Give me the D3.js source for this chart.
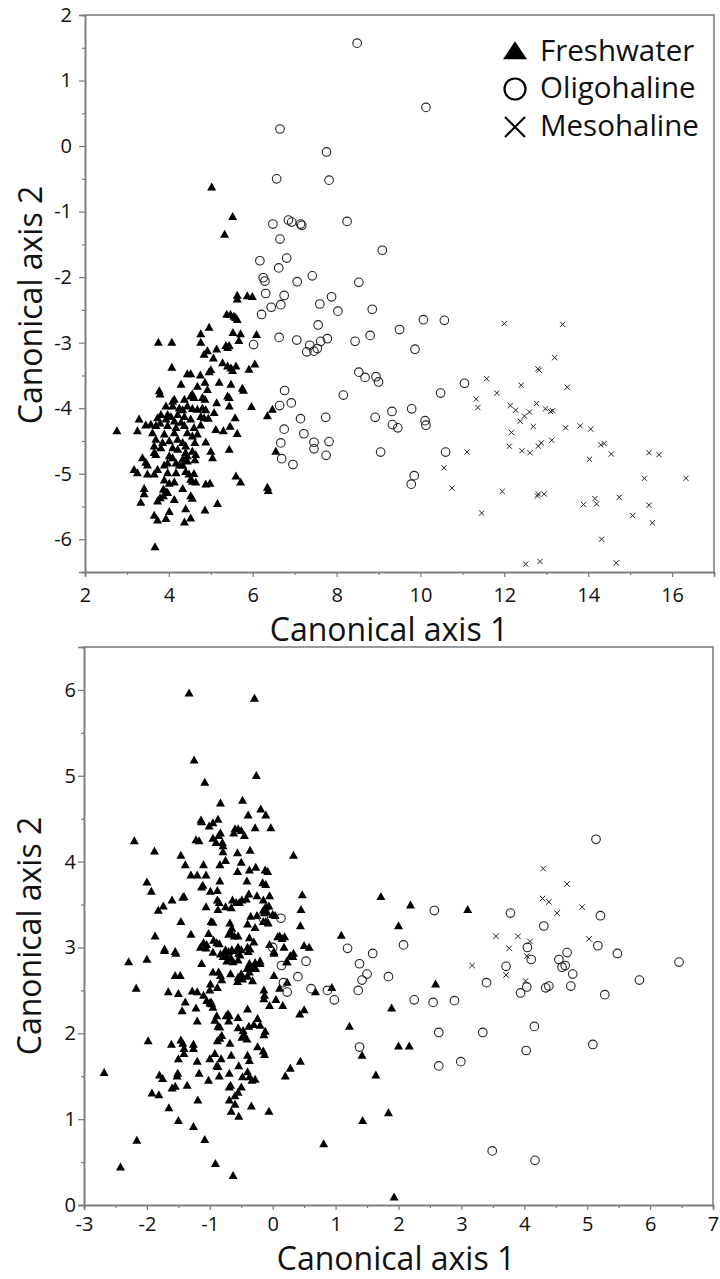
<!DOCTYPE html>
<html>
<head>
<meta charset="utf-8">
<script src="https://cdnjs.cloudflare.com/ajax/libs/d3/7.8.5/d3.min.js"></script>
<style>
  html, body { margin: 0; padding: 0; background: #fff; }
  svg { display: block; font-family: "Open Sans", "Noto Sans", sans-serif; }
</style>
</head>
<body>
<div id="chart"></div>
<script>
"use strict";

// ---- data ----
var seriesNames = ["Freshwater", "Oligohaline", "Mesohaline"];

// upper panel: canonical axis 1 vs 2
var freshTop = [
  [5.02,-0.63],[5.52,-1.08],[5.33,-1.35],[5.63,-2.28],[5.87,-2.29],[5.99,-2.3],
  [5.63,-2.34],[5.38,-2.57],[5.47,-2.57],[5.55,-2.6],[5.59,-2.62],[5.63,-2.65],
  [4.96,-2.77],[4.76,-2.87],[5.53,-2.85],[5.71,-2.87],[6.09,-2.88],[5.67,-2.97],
  [4.76,-3.0],[3.75,-3.0],[4.07,-3.0],[5.36,-3.05],[5.4,-3.08],[5.44,-3.05],
  [5.14,-3.1],[4.92,-3.13],[4.84,-3.18],[5.06,-3.24],[5.28,-3.31],[4.07,-3.38],
  [5.0,-3.42],[4.96,-3.45],[5.4,-3.36],[5.48,-3.39],[5.52,-3.43],[5.6,-3.36],[5.91,-3.41],[6.05,-3.33],
  [4.44,-3.48],[4.52,-3.48],[4.75,-3.5],[4.86,-3.61],[5.2,-3.61],[5.48,-3.64],[4.29,-3.64],[4.68,-3.67],
  [5.75,-3.7],[5.78,-3.73],[3.77,-3.74],[3.79,-3.79],[4.92,-3.72],[4.56,-3.79],[4.52,-3.82],[4.6,-3.84],
  [4.8,-3.84],[5.4,-3.82],[5.44,-3.84],[4.09,-3.9],[4.13,-3.87],[4.37,-3.87],[5.14,-3.92],[4.86,-3.87],
  [3.93,-3.97],[4.09,-3.97],[4.25,-4.0],[4.33,-4.03],[4.44,-3.97],[4.56,-4.01],[4.68,-4.02],[4.8,-4.0],[4.88,-4.03],
  [5.44,-3.97],[5.97,-3.98],[5.08,-4.07],[3.97,-4.1],[4.05,-4.13],[3.81,-4.1],[4.21,-4.1],[4.37,-4.13],
  [4.76,-4.13],[4.84,-4.15],[3.29,-4.17],[3.73,-4.15],[3.93,-4.17],[4.13,-4.2],[4.29,-4.22],[4.52,-4.17],
  [4.94,-4.16],[5.58,-4.15],[6.35,-4.12],[6.47,-4.02],[3.57,-4.25],[3.69,-4.27],[3.79,-4.23],[3.97,-4.27],
  [4.17,-4.3],[4.37,-4.27],[4.6,-4.3],[4.76,-4.26],[3.45,-4.26],[3.25,-4.35],[2.76,-4.35],[3.61,-4.38],
  [3.89,-4.4],[4.13,-4.38],[4.44,-4.38],[4.68,-4.4],[4.56,-4.43],[5.12,-4.33],[5.3,-4.35],[5.46,-4.28],[5.63,-4.39],
  [3.69,-4.48],[3.85,-4.53],[4.01,-4.5],[4.21,-4.48],[4.33,-4.53],[4.62,-4.53],[4.88,-4.52],[3.65,-4.58],[3.81,-4.61],
  [4.09,-4.61],[4.21,-4.63],[4.4,-4.58],[4.56,-4.66],[5.44,-4.63],[5.0,-4.66],[3.65,-4.68],[3.69,-4.71],
  [4.4,-4.68],[4.44,-4.73],[4.64,-4.71],[4.01,-4.73],[4.09,-4.76],[5.04,-4.76],[3.37,-4.76],[4.33,-4.78],[4.44,-4.81],
  [3.45,-4.83],[3.49,-4.87],[3.89,-4.87],[3.97,-4.84],[4.17,-4.84],[4.25,-4.87],[4.33,-4.87],[4.62,-4.79],
  [3.17,-4.94],[3.25,-4.99],[3.73,-4.94],[3.97,-4.99],[4.17,-4.99],[3.49,-5.01],[3.65,-5.01],[4.4,-4.97],[4.48,-5.01],[4.6,-5.0],
  [4.52,-5.09],[4.56,-5.12],[4.64,-5.13],[4.88,-5.16],[4.98,-5.15],[5.6,-5.04],[5.71,-5.13],[4.13,-5.13],[4.01,-5.15],[3.89,-5.1],
  [3.41,-5.23],[3.41,-5.31],[4.33,-5.23],[3.87,-5.24],[3.93,-5.28],[3.97,-5.29],[6.35,-5.21],[6.37,-5.26],
  [3.79,-5.37],[3.87,-5.34],[4.52,-5.34],[4.56,-5.38],[3.33,-5.44],[4.13,-5.4],[3.73,-5.42],[5.16,-5.46],
  [4.86,-5.56],[4.4,-5.54],[4.01,-5.58],[3.65,-5.64],[3.73,-5.71],[3.93,-5.69],[4.52,-5.68],[4.37,-5.74],[3.67,-6.12],[6.55,-4.66]
];
var oligoTop = [
  [8.49,1.57],[10.13,0.59],[6.65,0.26],[7.76,-0.09],[6.57,-0.5],[7.82,-0.52],[6.48,-1.19],[6.85,-1.13],[6.93,-1.16],
  [7.14,-1.19],[7.17,-1.21],[8.25,-1.15],[6.65,-1.42],[6.17,-1.75],[6.81,-1.71],[6.62,-1.86],[6.25,-2.01],[6.29,-2.06],
  [7.06,-2.07],[7.42,-1.98],[9.09,-1.59],[8.53,-2.08],[6.31,-2.25],[6.75,-2.28],[7.88,-2.3],
  [6.21,-2.57],[6.44,-2.46],[6.67,-2.42],[7.6,-2.41],[8.03,-2.52],[6.02,-3.03],[6.63,-2.92],[7.05,-2.96],
  [7.36,-3.04],[7.29,-3.14],[7.46,-3.13],[7.54,-3.09],[7.62,-2.98],[7.78,-2.94],[7.56,-2.73],[8.44,-2.98],
  [8.53,-3.45],[8.16,-3.8],[6.76,-3.73],[6.64,-3.96],[6.92,-3.92],[7.14,-4.16],[7.74,-4.14],[6.75,-4.32],
  [7.22,-4.39],[6.67,-4.53],[7.46,-4.52],[7.46,-4.62],[7.82,-4.51],[6.69,-4.77],[6.96,-4.86],[7.75,-4.72],
  [8.85,-2.49],[10.07,-2.65],[10.57,-2.66],[8.8,-2.89],[9.5,-2.8],[9.87,-3.1],[8.68,-3.53],[8.94,-3.52],[9.0,-3.6],
  [11.05,-3.62],[10.48,-3.77],[8.92,-4.14],[9.32,-4.05],[9.33,-4.25],[9.46,-4.3],[9.79,-4.01],[10.11,-4.19],[10.13,-4.26],
  [9.05,-4.67],[10.6,-4.67],[9.85,-5.03],[9.78,-5.16]
];
var mesoTop = [
  [12.0,-2.71],[13.39,-2.72],[13.2,-3.23],[12.8,-3.4],[12.83,-3.42],[11.58,-3.55],[12.4,-3.65],[13.5,-3.68],[11.82,-3.77],
  [11.33,-3.86],[11.37,-3.99],[12.14,-3.96],[12.27,-4.03],[12.77,-3.93],[12.98,-4.01],[13.1,-4.05],[13.15,-4.04],
  [12.48,-4.12],[12.6,-4.06],[12.38,-4.2],[12.69,-4.28],[13.46,-4.3],[13.81,-4.27],[14.06,-4.32],[12.17,-4.37],
  [14.3,-4.56],[14.38,-4.54],[13.13,-4.49],[12.88,-4.53],[12.81,-4.58],[12.12,-4.58],[12.42,-4.65],[12.61,-4.68],
  [11.11,-4.67],[14.55,-4.7],[15.45,-4.68],[15.69,-4.71],[14.03,-4.78],[10.56,-4.91],[10.75,-5.22],[11.95,-5.27],
  [12.79,-5.34],[12.81,-5.31],[12.95,-5.31],[15.34,-5.07],[16.33,-5.07],[13.89,-5.47],[14.16,-5.38],[14.2,-5.46],
  [14.74,-5.36],[15.45,-5.48],[15.06,-5.64],[15.53,-5.75],[11.46,-5.6],[14.32,-6.0],[12.51,-6.38],[12.85,-6.34],[14.67,-6.36]
];

// lower panel
var freshBot = [
  [-1.33,5.96],[-0.29,5.9],[-1.25,5.18],[-0.26,5.0],[-1.08,4.92],[-0.83,4.68],[-0.48,4.71],[-0.19,4.61],[-0.39,4.54],[-0.11,4.54],
  [-1.14,4.48],[-1.13,4.46],[-0.87,4.49],[-0.95,4.45],[-1.01,4.41],[-0.6,4.38],[-0.55,4.38],[-0.5,4.36],[-0.28,4.39],[-0.03,4.39],
  [-0.83,4.33],[-0.86,4.3],[-0.62,4.33],[-0.45,4.3],[-1.22,4.25],[-1.17,4.24],[-0.95,4.27],[-0.9,4.22],[-0.8,4.22],[-0.79,4.18],
  [-2.2,4.24],[-1.88,4.12],[-0.79,4.11],[-0.56,4.1],[-0.36,4.13],[0.33,4.07],[-1.46,4.07],[-0.75,4.01],[-0.5,3.99],
  [-0.84,3.96],[-1.39,3.96],[-1.1,3.96],[-0.27,3.93],[-0.37,3.9],[-0.12,3.9],[-0.08,3.88],[-0.56,3.88],[-1.3,3.84],[-1.2,3.84],
  [-1.06,3.84],[-2.0,3.76],[-0.84,3.77],[-0.41,3.77],[-0.16,3.75],[-0.11,3.73],[-1.93,3.65],[-1.13,3.7],[-1.11,3.72],
  [-0.99,3.65],[-0.88,3.66],[-0.38,3.62],[-0.25,3.6],[-0.05,3.6],[0.47,3.61],[-1.6,3.55],[-1.43,3.58],[-1.41,3.59],
  [-0.88,3.55],[-0.85,3.52],[-0.64,3.55],[-0.58,3.52],[-0.53,3.52],[-0.49,3.55],[-0.42,3.56],[-0.15,3.55],
  [-1.74,3.48],[-1.82,3.43],[-1.06,3.47],[-0.75,3.47],[-0.66,3.46],[-0.87,3.44],[-0.11,3.47],[-0.06,3.48],[-0.15,3.43],
  [-0.13,3.4],[-0.09,3.41],[0.45,3.44],[-0.35,3.36],[-0.25,3.37],[0.0,3.38],[-1.46,3.3],[-0.98,3.3],[-0.95,3.29],
  [-0.68,3.28],[-0.15,3.3],[-0.11,3.3],[-0.07,3.28],[-0.4,3.27],[0.44,3.25],[-0.65,3.22],[-0.28,3.23],
  [-1.87,3.13],[-1.3,3.15],[-1.02,3.16],[-0.66,3.16],[-0.61,3.13],[-0.55,3.13],[-0.37,3.11],[0.08,3.12],[0.15,3.1],[1.09,3.14],
  [-1.72,2.98],[-1.55,2.95],[-1.1,3.05],[-1.05,3.03],[-0.94,3.08],[-0.89,3.05],[-0.7,3.15],[-0.75,2.95],[-0.72,2.9],
  [-0.66,2.87],[-0.79,2.89],[-0.73,2.84],[-0.63,2.83],[-0.55,3.0],[-0.58,2.96],[-0.5,2.97],[-0.4,3.0],[-0.39,2.95],[-0.28,2.82],[-0.2,2.84],
  [0.04,3.37],[0.11,3.13],[0.19,3.12],[0.02,2.95],[0.33,2.93],[0.5,3.02],[0.22,2.83],
  [-2.68,1.54],[-2.42,0.44],[-2.16,0.75],[-2.29,2.83],[-2.0,2.86],[-2.17,2.52],[-1.72,2.96],[-1.54,2.93],[-1.98,1.91],
  [-1.61,1.87],[-1.8,1.51],[-1.75,1.47],[-1.92,1.3],[-1.81,1.28],[-1.65,1.13],[-1.6,1.36],[-1.55,1.38],[-1.5,0.98],[-1.26,0.91],
  [-1.08,0.76],[-0.91,0.48],[-0.63,0.34],[0.81,0.71],[-0.06,1.09],[-0.34,1.15],[-0.66,1.09],[-0.54,1.03],[-0.6,1.17],[-0.69,1.22],
  [-1.19,1.22],[-1.36,1.39],[-1.51,1.53],[-1.52,1.5],[-1.5,1.7],[-1.41,1.76],[-1.41,1.82],[-1.43,1.88],[-1.26,1.87],[-1.26,1.82],
  [-1.2,1.67],[-1.46,1.92],[-1.17,1.53],[-1.02,1.45],[-1.0,1.7],[-0.92,1.76],[-0.89,1.62],[-0.87,1.61],[-0.85,1.5],[-0.82,1.7],
  [-0.88,1.91],[-0.84,1.94],[-0.68,1.88],[-0.69,1.53],[-0.69,1.37],[-0.67,1.39],[-0.6,1.27],[-0.55,1.31],[-0.5,1.37],[-0.48,1.49],
  [-0.4,1.55],[-0.37,1.49],[-0.33,1.45],[-0.28,1.46],[-0.54,1.62],[-0.66,1.74],[-0.4,1.74],[-0.37,1.68],[-0.24,1.84],[-0.15,1.79],[-0.13,1.75],
  [-0.49,1.95],[-0.45,1.97],[-0.41,1.93],[-0.38,2.08],[-0.47,2.03],[-0.55,2.06],[-0.24,2.17],[-0.2,2.09],[-0.12,2.02],[-0.14,1.98],
  [-0.3,2.1],[-0.55,2.18],[-0.7,2.14],[-0.71,2.22],[-0.69,2.2],[-0.74,2.2],[-0.89,2.2],[-0.92,2.15],[-0.87,2.08],[-0.84,2.07],[-0.81,1.97],
  [-1.2,2.14],[-1.22,2.29],[-0.95,2.3],[-0.97,2.34],[-1.44,2.26],[-1.39,2.36],[-1.5,2.46],[-1.28,2.49],[-1.2,2.48],[-1.1,2.44],
  [-1.05,2.38],[-1.0,2.35],[-0.98,2.36],[-1.66,2.48],[-1.0,2.5],[-0.99,2.57],[-0.88,2.53],[-0.81,2.62],[-0.95,2.71],[-0.86,2.71],
  [-0.83,2.67],[-0.67,2.69],[-0.56,2.6],[-0.55,2.65],[-0.5,2.69],[-0.48,2.63],[-0.4,2.66],[-0.37,2.71],[-0.41,2.75],[-0.35,2.76],
  [-0.3,2.77],[-0.27,2.75],[-0.32,2.61],[-0.4,2.28],[-0.14,2.5],[-0.13,2.44],[-0.14,2.4],[-0.05,2.32],[0.02,2.67],[-0.2,2.81],
  [0.05,2.39],[0.11,2.52],[0.16,2.32],[0.23,2.83],[0.28,2.9],[0.32,2.89],[0.23,2.59],[0.5,2.27],[0.43,2.22],[0.68,2.48],[0.58,3.0],
  [0.02,2.93],[0.18,3.0],[-0.05,3.03],[-0.65,2.97],[-0.7,2.95],[-0.75,2.97],[-0.52,2.91],[-0.54,2.93],[-0.36,2.98],[-0.3,3.06],
  [-0.85,3.04],[-0.83,2.92],[-1.15,3.0],[-1.06,2.99],[-1.13,2.81],[-1.55,2.67],[-1.47,2.67],[0.44,1.67],[0.2,1.5],[0.28,1.59],
  [1.22,2.08],[1.42,1.74],[1.43,0.98],[0.94,2.53],[-0.37,2.81],[-0.95,2.94],[-0.55,2.85],
  [2.59,2.57],[1.89,2.29],[2.0,1.85],[2.17,1.85],[1.64,1.51],[1.84,1.07],[1.93,0.09],[1.72,3.59],[2.19,3.49],[3.1,3.44],[2.0,3.25]
];
var oligoBot = [
  [-0.15,3.34],[0.13,3.34],[0.0,3.0],[0.14,2.79],[0.17,2.59],[0.23,2.48],[0.4,2.66],[0.53,2.84],[0.61,2.52],[0.87,2.5],[0.98,2.39],
  [1.19,2.99],[1.38,2.81],[1.42,2.62],[1.36,2.5],[1.38,1.84],[1.5,2.69],[1.59,2.93],[2.08,3.03],[1.84,2.66],[2.25,2.39],[2.55,2.36],
  [2.89,2.38],[2.64,2.01],[2.64,1.62],[2.99,1.67],[3.34,2.01],[3.4,2.59],[3.49,0.63],[3.71,2.78],[3.94,2.47],[4.05,3.0],[4.04,2.54],
  [4.11,2.86],[4.16,2.08],[4.03,1.8],[4.17,0.52],[4.34,2.53],[4.39,2.55],[4.55,2.86],[4.6,2.77],[4.65,2.79],[4.68,2.94],[4.77,2.69],
  [4.74,2.55],[5.17,3.02],[5.28,2.45],[5.09,1.87],[5.48,2.93],[5.83,2.62],[6.46,2.83],[2.57,3.43],[3.78,3.4],[4.31,3.25],[5.21,3.37],[5.14,4.26]
];
var mesoBot = [
  [4.3,3.92],[4.68,3.74],[4.29,3.57],[4.39,3.53],[4.52,3.4],[4.92,3.47],[3.55,3.13],[3.9,3.13],[4.09,3.07],[3.76,2.99],[4.04,2.9],
  [3.17,2.79],[3.71,2.68],[4.02,2.61],[5.03,3.1]
];

// axis domains and ticks
var topXDomain = [2, 17], topYDomain = [-6.5, 2];
var topXTicks = [2, 4, 6, 8, 10, 12, 14, 16];
var topXMinor = [3, 5, 7, 9, 11, 13, 15, 17];
var topYTicks = [-6, -5, -4, -3, -2, -1, 0, 1, 2];
var topYMinor = [-6.5, -5.5, -4.5, -3.5, -2.5, -1.5, -0.5, 0.5, 1.5];

var botXDomain = [-3, 7], botYDomain = [0, 6.5];
var botXTicks = [-3, -2, -1, 0, 1, 2, 3, 4, 5, 6, 7];
var botXMinor = [-2.5, -1.5, -0.5, 0.5, 1.5, 2.5, 3.5, 4.5, 5.5, 6.5];
var botYTicks = [0, 1, 2, 3, 4, 5, 6];
var botYMinor = [0.5, 1.5, 2.5, 3.5, 4.5, 5.5, 6.5];

var axisTitleX = "Canonical axis 1", axisTitleY = "Canonical axis 2";

// ---- drawing ----
var W = 720, H = 1279;
var axisColor = "#7a7a7a";

var svg = d3.select("#chart").append("svg")
  .attr("width", W)
  .attr("height", H);

function triPath(w, h) {
  return "M0," + (-h * 0.6) + "L" + (w / 2) + "," + (h * 0.4) + "L" + (-w / 2) + "," + (h * 0.4) + "Z";
}
function crossPath(s) {
  return "M" + (-s) + "," + (-s) + "L" + s + "," + s + "M" + (-s) + "," + s + "L" + s + "," + (-s);
}

function panel(opt) {
  var x = d3.scaleLinear().domain(opt.xDomain).range([opt.left, opt.right]);
  var y = d3.scaleLinear().domain(opt.yDomain).range([opt.bottom, opt.top]);
  var g = svg.append("g");
  var fmt = function(d) { return String(d); };

  // frame (top + right)
  g.append("path")
    .attr("d", "M" + opt.left + "," + opt.top + "H" + opt.right + "V" + opt.bottom)
    .attr("fill", "none")
    .attr("stroke", axisColor)
    .attr("stroke-width", 1.5);

  // minor ticks
  g.append("g")
    .attr("transform", "translate(0," + opt.bottom + ")")
    .call(d3.axisBottom(x).tickValues(opt.xMinor).tickSize(3).tickFormat(""));
  g.append("g")
    .attr("transform", "translate(" + opt.left + ",0)")
    .call(d3.axisLeft(y).tickValues(opt.yMinor).tickSize(3).tickFormat(""));

  g.append("g")
    .attr("transform", "translate(0," + opt.bottom + ")")
    .call(d3.axisBottom(x).tickValues(opt.xTicks).tickSize(5).tickPadding(opt.xPad).tickFormat(fmt));
  g.append("g")
    .attr("transform", "translate(" + opt.left + ",0)")
    .call(d3.axisLeft(y).tickValues(opt.yTicks).tickSize(6).tickPadding(opt.yPad).tickFormat(fmt));

  g.selectAll(".domain").attr("stroke", axisColor).attr("stroke-width", 1.5);
  g.selectAll(".tick line").attr("stroke", axisColor).attr("stroke-width", 1.2);
  g.selectAll(".tick text")
    .attr("fill", "#111")
    .style("font-size", "20px")
    .style("font-family", "'Open Sans', sans-serif");

  // titles
  g.append("text")
    .attr("x", opt.xTitleX)
    .attr("y", opt.xTitleY)
    .attr("text-anchor", "middle")
    .style("font-size", "32px")
    .attr("fill", "#111")
    .text(axisTitleX);
  g.append("text")
    .attr("transform", "translate(" + opt.yTitleX + "," + opt.yTitleY + ") rotate(-90)")
    .attr("text-anchor", "middle")
    .style("font-size", "32px")
    .attr("fill", "#111")
    .text(axisTitleY);

  // points
  var pts = g.append("g");
  pts.selectAll("path.fresh")
    .data(opt.fresh)
    .enter()
    .append("path")
    .attr("class", "fresh")
    .attr("d", triPath(9, 8))
    .attr("transform", function(d) { return "translate(" + x(d[0]) + "," + y(d[1]) + ")"; })
    .attr("fill", "#000");
  pts.selectAll("circle.oligo")
    .data(opt.oligo)
    .enter()
    .append("circle")
    .attr("class", "oligo")
    .attr("cx", function(d) { return x(d[0]); })
    .attr("cy", function(d) { return y(d[1]); })
    .attr("r", 4.3)
    .attr("fill", "none")
    .attr("stroke", "#222")
    .attr("stroke-width", 1.1);
  pts.selectAll("path.meso")
    .data(opt.meso)
    .enter()
    .append("path")
    .attr("class", "meso")
    .attr("d", crossPath(opt.crossSize))
    .attr("transform", function(d) { return "translate(" + x(d[0]) + "," + y(d[1]) + ")"; })
    .attr("fill", "none")
    .attr("stroke", "#222")
    .attr("stroke-width", 1);

  return g;
}

panel({
  left: 85, right: 714, top: 15, bottom: 572,
  xDomain: topXDomain, yDomain: topYDomain,
  xTicks: topXTicks, xMinor: topXMinor, yTicks: topYTicks, yMinor: topYMinor,
  xPad: 11, yPad: 7,
  xTitleX: 389, xTitleY: 641, yTitleX: 42, yTitleY: 305,
  fresh: freshTop, oligo: oligoTop, meso: mesoTop, crossSize: 2.6
});

panel({
  left: 84, right: 713, top: 647, bottom: 1205,
  xDomain: botXDomain, yDomain: botYDomain,
  xTicks: botXTicks, xMinor: botXMinor, yTicks: botYTicks, yMinor: botYMinor,
  xPad: 7, yPad: 2,
  xTitleX: 396, xTitleY: 1270, yTitleX: 41, yTitleY: 936,
  fresh: freshBot, oligo: oligoBot, meso: mesoBot, crossSize: 2.8
});

// legend (upper panel)
var legend = svg.append("g").attr("transform", "translate(515,0)");
var legendRows = [52, 89, 127];
legend.append("path")
  .attr("d", triPath(24, 18))
  .attr("transform", "translate(0," + legendRows[0] + ")")
  .attr("fill", "#000");
legend.append("circle")
  .attr("cx", 0).attr("cy", legendRows[1]).attr("r", 10.5)
  .attr("fill", "none").attr("stroke", "#000").attr("stroke-width", 2.2);
legend.append("path")
  .attr("d", crossPath(10))
  .attr("transform", "translate(0," + legendRows[2] + ")")
  .attr("fill", "none").attr("stroke", "#000").attr("stroke-width", 2.2);
legend.selectAll("text")
  .data(seriesNames)
  .enter()
  .append("text")
  .attr("x", 25)
  .attr("y", function(d, i) { return legendRows[i] + 9; })
  .style("font-size", "29.5px")
  .attr("fill", "#111")
  .text(function(d) { return d; });
</script>
</body>
</html>
